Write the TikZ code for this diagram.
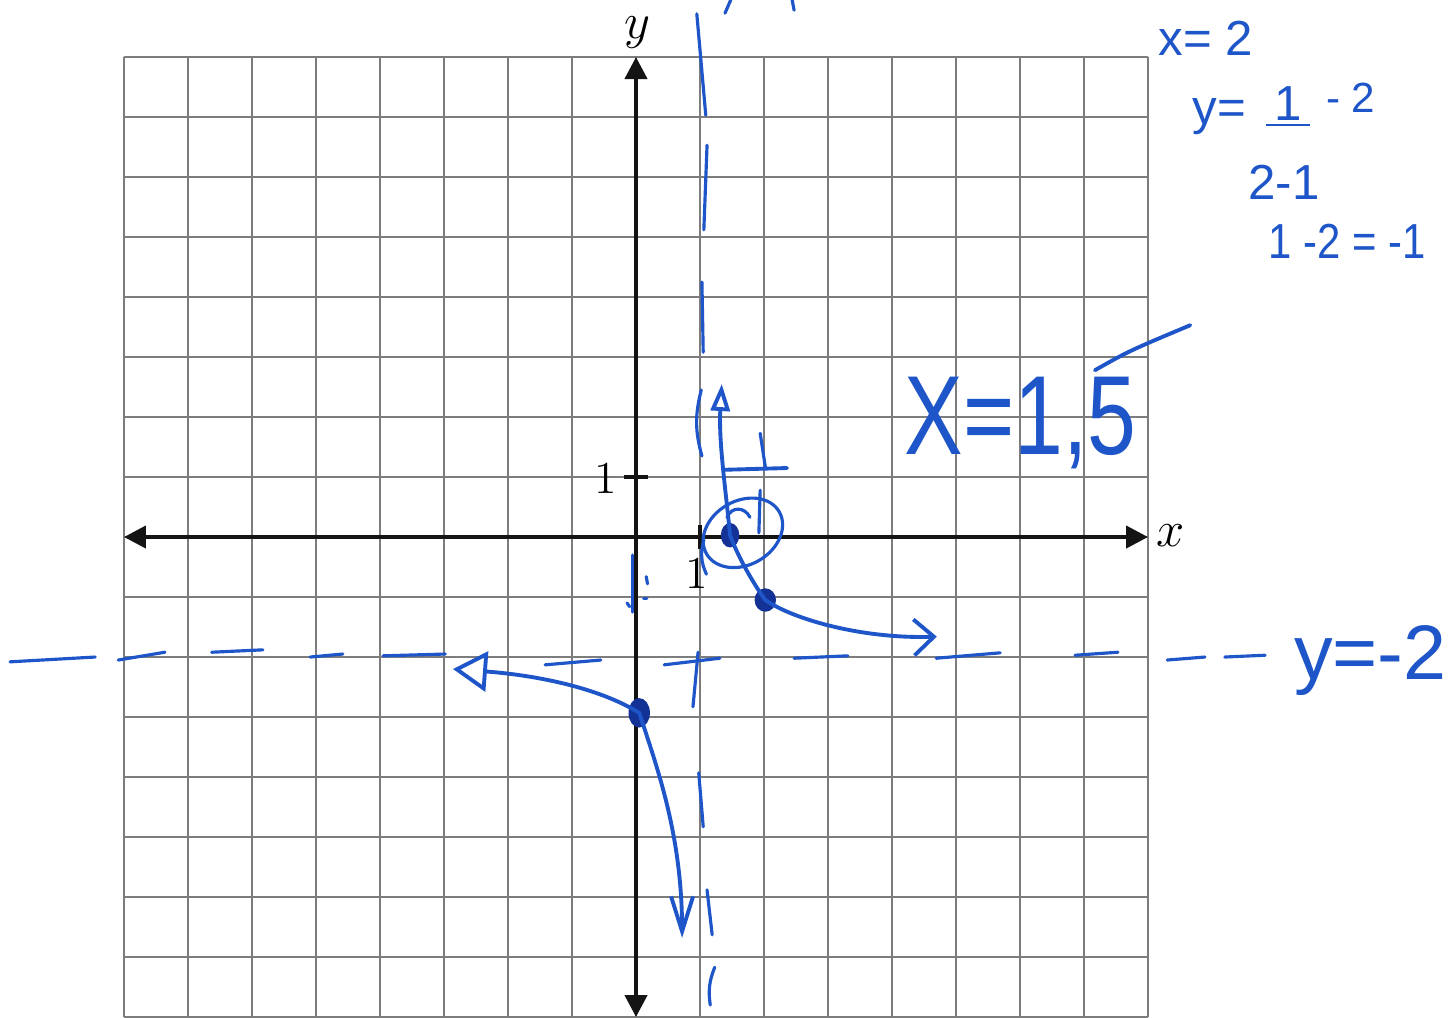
\documentclass[tikz,border=0pt]{standalone}
\usepackage{fontspec}
\usepackage{tikz}
\usetikzlibrary{arrows.meta, shapes.geometric}
\newfontfamily\handfont{Liberation Sans}
\definecolor{gridgray}{RGB}{125,125,125}
\definecolor{axisblack}{RGB}{20,20,20}
\definecolor{inkblue}{RGB}{30,85,200}
\definecolor{inkdark}{RGB}{20,50,150}
\tikzset{
  gridline/.style={draw=gridgray, line width=0.45pt},
  axisline/.style={draw=axisblack, line width=1.2pt,
    {Triangle[length=2.2mm,width=2.2mm]}-{Triangle[length=2.2mm,width=2.2mm]}},
  tickmark/.style={draw=axisblack, line width=1.2pt},
  ticklabel/.style={font=\fontsize{13}{13}\selectfont},
  ink/.style={draw=inkblue, line width=1.1pt, line cap=round},
  inkdash/.style={draw=inkblue, line width=0.9pt, line cap=round},
  inkdot/.style={ellipse, draw=inkdark, fill=inkdark, inner sep=0pt,
    minimum width=1.7mm, minimum height=2.3mm},
  inktext/.style={text=inkblue, inner sep=0pt, anchor=base west,
    font=\handfont\fontsize{14}{14}\selectfont}
}

\begin{document}
\begin{tikzpicture}[x=0.64cm, y=0.6cm]
  % paper and grid
  \fill[white] (-9.9375,-8) rectangle (12.734,8.95);
  \useasboundingbox (-9.9375,-8) rectangle (12.734,8.95);
  \foreach \i in {-8,...,8} {
    \draw[gridline] (\i,-8) -- (\i,8);
    \draw[gridline] (-8,\i) -- (8,\i);
  }

  % axes
  \draw[axisline] (-8,0) -- (8,0);
  \draw[axisline] (0,-8) -- (0,8);
  \draw[tickmark] (1,-0.2) -- (1,0.2);
  \draw[tickmark] (-0.19,1) -- (0.19,1);
  \node[ticklabel] (xone) at (0.95,-0.6) {1};
  \node[ticklabel] (yone) at (-0.48,0.98) {1};
  \node[font=\fontsize{14}{14}\selectfont] (xlab) at (8.36,0.02) {$x$};
  \node[font=\fontsize{14}{14}\selectfont, inner sep=0pt] (ylab) at (0.02,8.4) {$y$};

  % asymptote x = 1 (hand drawn)
  \draw[inkdash] (0.95,8.72) -- (1.09,7.03);
  \draw[inkdash] (1.11,6.53) -- (1.06,5.12);
  \draw[inkdash] (1.03,4.25) -- (1.05,3.08);
  \draw[inkdash] (1.02,2.45) to[bend right=15] (1.03,1.35);
  \draw[inkdash] (1.06,-0.05) to[bend right=20] (1.1,-0.62);
  \draw[inkdash] (0.97,-1.92) -- (0.89,-2.83);
  \draw[inkdash] (0.98,-3.93) -- (1.05,-4.83);
  \draw[inkdash] (1.11,-5.88) -- (1.19,-6.63);
  \draw[inkdash] (1.23,-7.17) to[bend right=15] (1.16,-7.8);
  \draw[inkdash] (1.39,8.73) -- (1.48,8.95);
  \draw[inkdash] (2.44,8.95) -- (2.47,8.78);

  % asymptote y = -2 (hand drawn)
  \foreach \a/\b in {{(-9.78,-2.08)}/{(-8.45,-2.0)}, {(-8.09,-2.05)}/{(-7.36,-1.92)},
      {(-6.63,-1.92)}/{(-5.83,-1.88)}, {(-5.09,-2.0)}/{(-4.58,-1.95)},
      {(-3.95,-1.98)}/{(-2.98,-1.95)}, {(-1.42,-2.13)}/{(-0.55,-2.05)},
      {(0.44,-2.13)}/{(1.31,-2.02)}, {(2.47,-2.02)}/{(3.31,-1.98)},
      {(4.69,-2.02)}/{(5.69,-1.93)}, {(6.86,-1.97)}/{(7.53,-1.92)},
      {(8.3,-2.05)}/{(8.89,-2.0)}, {(9.2,-2.0)}/{(9.83,-1.97)}}
    \draw[inkdash] \a -- \b;
  \node[inktext, font=\handfont\fontsize{22}{22}\selectfont] (yasym) at (10.27,-2.38) {y=-2};

  % marks near the axes
  \draw[inkdash] (-0.05,-0.3) -- (-0.05,-1.25);
  \draw[inkdash] (0.16,-0.66) -- (0.18,-0.78);
  \draw[inkdash] (0.12,-1.02) -- (0.17,-1.02);
  \draw[inkdash] (-0.14,-1.1) -- (-0.1,-1.16);
  \draw[ink] (1.36,1.12) -- (2.36,1.15);
  \draw[inkdash] (1.94,1.73) -- (2.02,1.17);
  \draw[inkdash] (1.94,0.78) -- (1.92,0.07);

  % points of the graph
  \node[inkdot] (ptA) at (1.47,0.03) {};
  \node[inkdot, minimum width=2mm, minimum height=2.2mm] (ptB) at (2.02,-1.05) {};
  \node[inkdot, minimum width=2mm, minimum height=2.8mm] (ptC) at (0.05,-2.93) {};
  \draw[ink, line width=0.9pt, rotate around={30:(1.67,0.07)}] (1.67,0.07) ellipse [x radius=0.42cm, y radius=0.32cm];
  \draw[ink, line width=0.9pt] (1.42,0.33) .. controls (1.5,0.52) and (1.7,0.5) .. (1.78,0.33);

  % right branch
  \draw[ink, {Triangle[open, length=2.7mm, width=1.9mm]}-{Straight Barb[length=2mm, width=3.6mm]}]
    (1.34,2.55) .. controls (1.29,1.6) and (1.40,0.8) .. (ptA.center)
    .. controls (1.6,-0.35) and (1.85,-0.8) .. (ptB.center)
    .. controls (2.5,-1.4) and (3.6,-1.7) .. (4.7,-1.66);

  % left branch
  \draw[ink, {Triangle[open, length=3.4mm, width=4mm]}-{Straight Barb[length=3.5mm, width=2.2mm]}]
    (-2.86,-2.2) .. controls (-1.6,-2.3) and (-0.6,-2.5) .. (ptC.center)
    .. controls (0.35,-3.9) and (0.72,-5.0) .. (0.72,-6.68);

  % working on the side
  \node[inktext, font=\handfont\fontsize{32}{32}\selectfont, xscale=0.78] (xval) at (4.19,1.37) {X=1,5};
  \draw[ink] (7.17,2.78) .. controls (7.7,3.1) .. (8.66,3.53);
  \node[inktext] (xtwo) at (8.16,8.03) {x= 2};
  \node[inktext] (yeq) at (8.69,6.87) {y=};
  \node[inktext] (num) at (9.83,6.95) {\underline{\,1\,}};
  \node[inktext, font=\handfont\fontsize{12}{12}\selectfont] (mtwo) at (10.77,7.08) {- 2};
  \node[inktext] (den) at (9.56,5.62) {2-1};
  \node[inktext, xscale=0.85] (res) at (9.88,4.65) {1 -2 = -1};
\end{tikzpicture}
\end{document}
